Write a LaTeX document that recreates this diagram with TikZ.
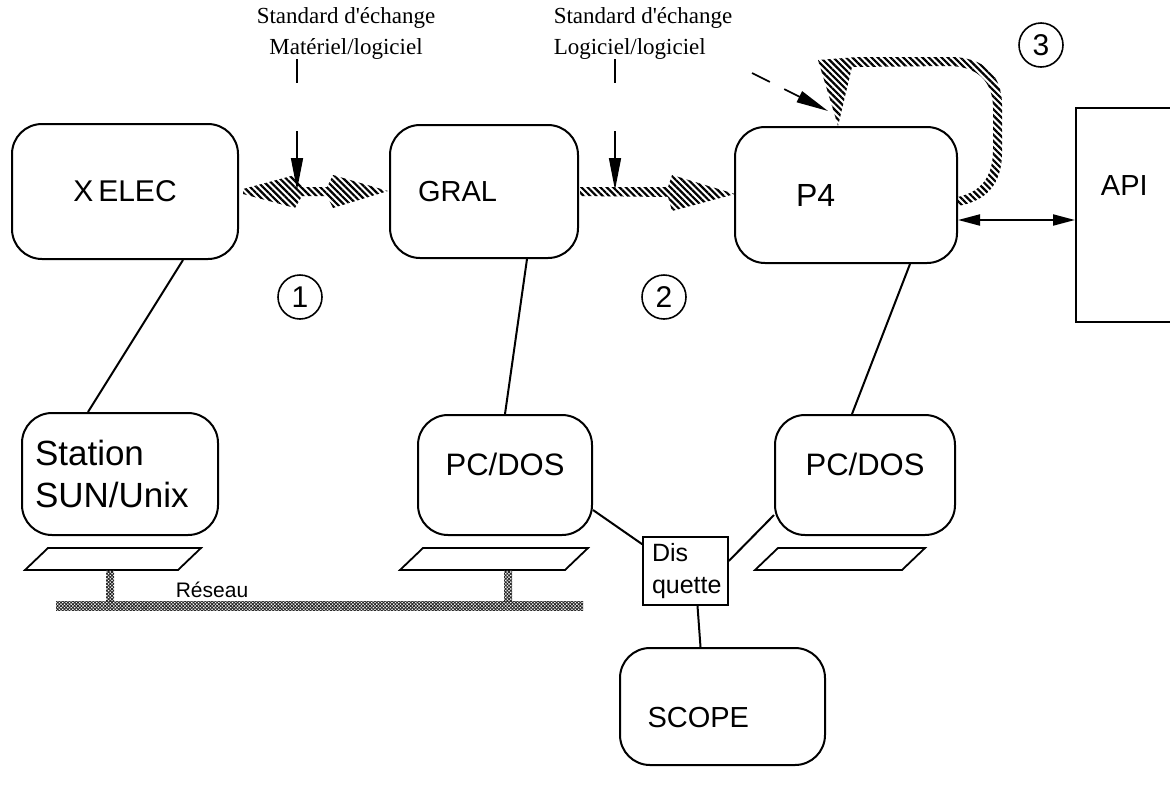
\documentclass[tikz,border=0pt]{standalone}
\usepackage{fontspec}
\newfontfamily\boxfont{Liberation Sans}
\newfontfamily\notefont{Liberation Serif}
\usetikzlibrary{positioning,arrows.meta,patterns.meta,calc}

\begin{document}
\begin{tikzpicture}[x=1pt, y=-1pt,
  unit/.style={draw, line width=2pt, rounded corners=30pt, align=center, font=\boxfont\fontsize{29}{34}\selectfont},
  plainbox/.style={draw, line width=1.8pt, font=\boxfont\fontsize{29}{34}\selectfont},
  num/.style={draw, circle, line width=1.6pt, minimum size=44pt, inner sep=0pt, font=\boxfont\fontsize{30}{30}\selectfont},
  note/.style={font=\notefont\fontsize{23}{31}\selectfont, inner sep=0pt},
  link/.style={line width=2pt},
  hatch/.style={pattern={Lines[angle=-45,distance=4.5pt,line width=2.2pt]}},
  net/.style={pattern={Hatch[angle=45,distance=2.4pt,line width=0.9pt]}, pattern color=black!85},
  dasharrow/.style={line width=1.6pt, -{Triangle[length=32pt,width=12pt]}},
  both/.style={line width=2pt, {Triangle[length=22pt,width=11pt]}-{Triangle[length=22pt,width=11pt]}}]
\useasboundingbox (0,0) rectangle (1170,796);

% main units
\node[unit, minimum width=226pt, minimum height=135pt, font=\boxfont\fontsize{30}{34}\selectfont] (xelec) at (125,191.5) {X\,ELEC};
\node[unit, minimum width=188pt, minimum height=133pt, text width=132pt, inner xsep=28pt, align=left] (gral) at (484,191.5) {GRAL};
\node[unit, minimum width=222pt, minimum height=136pt, text width=100pt, inner xsep=61pt, align=left, font=\boxfont\fontsize{32}{34}\selectfont] (p4) at (846,195) {P4};
\node[plainbox, anchor=west, minimum height=214pt, text width=60pt, inner xsep=25pt, text depth=58pt, align=left] (api) at (1075,215) {API};

% computers
\node[unit, minimum width=196pt, minimum height=122pt, text width=170pt, inner xsep=13pt, align=left, font=\boxfont\fontsize{35}{42}\selectfont] (station) at (120,474) {Station\\SUN/Unix};
\node[unit, minimum width=174pt, minimum height=120pt, text depth=22pt, font=\boxfont\fontsize{31}{36}\selectfont] (pc1) at (505,475) {PC/DOS};
\node[unit, minimum width=180pt, minimum height=120pt, text depth=22pt, font=\boxfont\fontsize{31}{36}\selectfont] (pc2) at (865,475) {PC/DOS};
\node[draw, line width=1.6pt, minimum width=85pt, minimum height=68pt, text width=67pt, inner xsep=9pt, align=left, font=\boxfont\fontsize{25}{32}\selectfont] (disq) at (685.5,571) {Dis\\quette};
\node[unit, minimum width=205pt, minimum height=117pt, text width=150pt, inner xsep=27.5pt, align=left, text height=42pt] (scope) at (722.5,706.5) {SCOPE};

% numbers and notes
\node[num] (n1) at (300,297) {1};
\node[num] (n2) at (664,297) {2};
\node[num] (n3) at (1041,45) {3};
\node[note, align=center] (std1) at (346,33) {Standard d'échange\\Matériel/logiciel};
\node[note, align=left] (std2) at (643,33) {Standard d'échange\\Logiciel/logiciel};
\node[font=\boxfont\fontsize{21}{21}\selectfont, inner sep=0pt] (reseau) at (212,590) {Réseau};

% keyboards and network
\foreach \kx/\kw in {25/153, 400/165, 755/147}
  \draw[line width=1.8pt] (\kx,570) -- ++(23,-22) -- ++(\kw,0) -- ++(-23,22) -- cycle;
\fill[net] (56,601) rectangle (583,610);
\fill[net] (106,570) rectangle (114,601);
\fill[net] (504,570) rectangle (512,601);

% links
\draw[link] ([xshift=58pt]xelec.south) -- ([xshift=-32pt]station.north);
\draw[link] ([xshift=43pt]gral.south) -- (pc1.north);
\draw[link] ([xshift=64pt]p4.south) -- ([xshift=-13pt]pc2.north);
\draw[link] ([yshift=-35pt]pc1.east) -- ([yshift=-8pt]disq.north west);
\draw[link] ([yshift=10pt]disq.east) -- ([yshift=-40pt]pc2.west);
\draw[link] ([xshift=12pt]disq.south) -- ([xshift=-22pt]scope.north);
\draw[both] ([yshift=-25pt]p4.east) coordinate (pa) -- (pa -| api.west);

% exchange standards
\fill[hatch] (243,189) -- (295,175) -- (302,187) -- (327,187) -- (333,175) -- (388,191)
  -- (333,208) -- (327,196) -- (302,196) -- (295,208) -- (243,194) -- cycle;
\fill[hatch] (580,187) -- (668,187) -- (672,175) -- (735,194) -- (672,211) -- (668,197) -- (580,196) -- cycle;
\fill[hatch] (958,206) .. controls (985,201) and (1002,186) .. (1002,152) -- (1002,105)
  .. controls (1002,76) and (985,57) .. (950,57) -- (858,57) -- (818,60) -- (838,126) -- (852,67)
  -- (948,66) .. controls (978,66) and (993,82) .. (993,108) -- (993,150)
  .. controls (993,178) and (980,192) .. (958,197) -- cycle;
\coordinate (h1) at (297,190);
\coordinate (h2) at (615,190);
\coordinate (a3) at (752,73);
\coordinate (h3) at (828,111);
\draw[dasharrow, dash pattern=on 24pt off 48pt on 40pt] (std1.south -| h1) -- (h1);
\draw[dasharrow, dash pattern=on 24pt off 48pt on 40pt] (std2.south -| h2) -- (h2);
\draw[dasharrow, dash pattern=on 20pt off 16pt on 40pt] (a3) -- (h3);
\end{tikzpicture}
\end{document}
